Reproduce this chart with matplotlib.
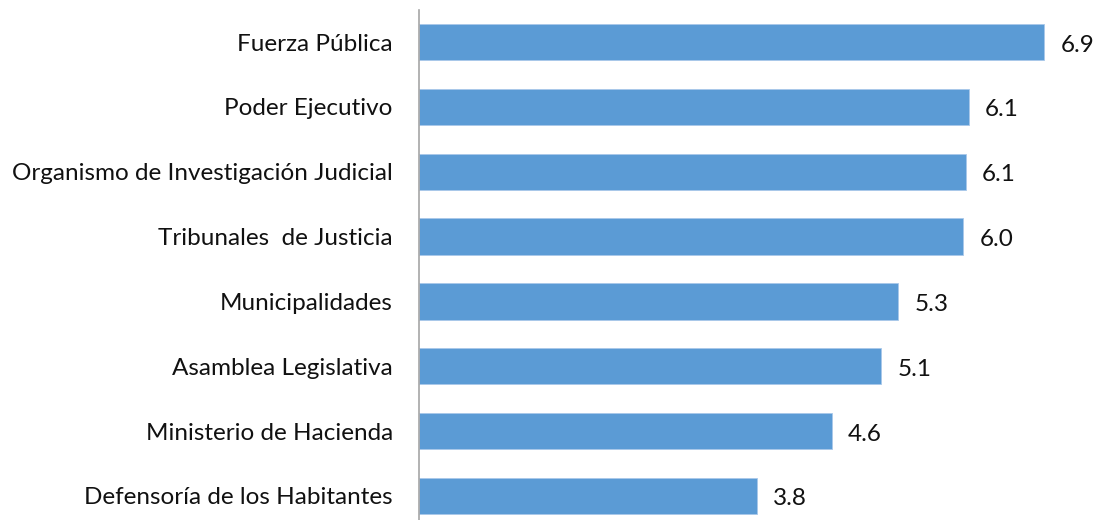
import matplotlib
matplotlib.use("Agg")
import matplotlib.pyplot as plt

categories = ["Fuerza Pública", "Poder Ejecutivo", "Organismo de Investigación Judicial",
              "Tribunales  de Justicia", "Municipalidades", "Asamblea Legislativa",
              "Ministerio de Hacienda", "Defensoría de los Habitantes"]
# bar lengths (labels show rounded values)
values = [6.94, 6.10, 6.07, 6.04, 5.32, 5.13, 4.58, 3.75]
value_labels = ["6.9", "6.1", "6.1", "6.0", "5.3", "5.1", "4.6", "3.8"]

plt.rcParams['font.family'] = ['Lato', 'DejaVu Sans']

fig = plt.figure(figsize=(10.98, 5.2), dpi=100)
ax = fig.add_axes([418.5/1098, -8.4/520, 679.5/1098, 518.8/520])
pos = list(range(len(categories)))
ax.barh(pos, values, height=0.56, color="#5B9BD5", edgecolor="#A9C8EA", linewidth=0.6)
ax.set_ylim(len(categories) - 0.5, -0.5)
ax.set_xlim(0, 679.5/90.2)
ax.set_yticks(pos)
ax.set_yticklabels(categories, fontsize=17.5, color="#111111")
ax.tick_params(axis='y', length=0, pad=18.5)
ax.set_xticks([])
for s in ["top", "right", "bottom"]:
    ax.spines[s].set_visible(False)
ax.spines["left"].set_color("#A6A6A6")
ax.spines["left"].set_linewidth(1.2)
for p, v, t in zip(pos, values, value_labels):
    ax.annotate(t, (v, p), xytext=(16, -3), textcoords="offset pixels",
                va="center", ha="left", fontsize=17.5, color="#111111")
fig.savefig("out.png", dpi=100)
